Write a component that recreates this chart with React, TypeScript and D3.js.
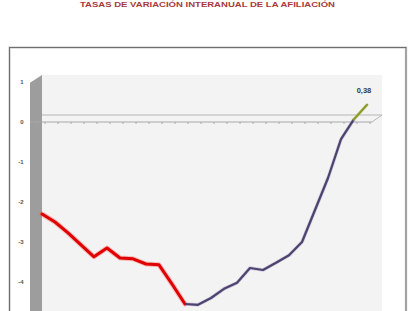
import React from 'react';
import * as d3 from 'd3';

const title = 'TASAS DE VARIACIÓN INTERANUAL DE LA AFILIACIÓN';
const months = [
  'ene-12', 'feb-12', 'mar-12', 'abr-12', 'may-12', 'jun-12', 'jul-12', 'ago-12', 'sep-12', 'oct-12', 'nov-12', 'dic-12',
  'ene-13', 'feb-13', 'mar-13', 'abr-13', 'may-13', 'jun-13', 'jul-13', 'ago-13', 'sep-13', 'oct-13', 'nov-13', 'dic-13',
  'ene-14', 'feb-14',
];
const values = [
  -2.35, -2.55, -2.82, -3.12, -3.42, -3.2, -3.45, -3.47, -3.6, -3.62, -4.1, -4.6,
  -4.62, -4.45, -4.22, -4.07, -3.7, -3.75, -3.57, -3.38, -3.05, -2.25, -1.45, -0.48,
  0.02, 0.38,
];
const yTicks = [1, 0, -1, -2, -3, -4];
const redEnd = 11; // last index of the red (2012) stretch
const greenStart = 24; // first index of the final green stretch
const lastLabel = '0,38';

export default function App() {
  const W = 414;
  const H = 311;
  // back plane geometry
  const backLeft = 42;
  const backRight = 382;
  const depthX = -12;
  const depthY = 7;

  const x = d3.scalePoint<string>().domain(months).range([42, 367]);
  const y = d3.scaleLinear().domain([-4, 1]).range([280, 80]);
  const yFront = (v: number) => y(v) + 2;
  const yBack = (v: number) => y(v) - 5;

  const line = d3
    .line<number>()
    .x((_, i) => 0)
    .y((d) => y(d));

  const pts = values.map((v, i) => [x(months[i]) as number, y(v)] as [number, number]);
  const lg = d3.line<[number, number]>().x((d) => d[0]).y((d) => d[1]);
  const red = lg(pts.slice(0, redEnd + 1)) || '';
  const purple = lg(pts.slice(redEnd, greenStart + 1)) || '';
  const green = lg(pts.slice(greenStart)) || '';

  const bottom = H + 20;
  const frontLeft = backLeft + depthX;
  const frontRight = backRight - 10;

  const tickScale = d3.scaleBand<string>().domain(months).range([frontLeft + 2, frontRight - 2]);
  const tickXs = months.map((m) => tickScale(m) as number).concat([(tickScale(months[months.length - 1]) as number) + tickScale.bandwidth()]);

  const last = pts[pts.length - 1];

  return (
    <svg
      width={W}
      height={H}
      style={{ position: 'absolute', left: 0, top: 0, background: '#ffffff' }}
      fontFamily="'Liberation Sans', Arial, sans-serif"
    >
      <text
        x={207.5}
        y={7}
        textAnchor="middle"
        fontSize={7.6}
        fontWeight="bold"
        fill="#a8393b"
        textLength={255}
        lengthAdjust="spacingAndGlyphs"
      >
        {title}
      </text>

      {/* chart area border */}
      <rect x={9.5} y={47.5} width={396.5} height={bottom} fill="#ffffff" stroke="#d8d8d8" strokeWidth={2.5} />
      <rect x={9.5} y={47.5} width={396.5} height={bottom} fill="none" stroke="#6e6e6e" strokeWidth={1} />

      {/* back wall */}
      <rect x={backLeft} y={75} width={backRight - backLeft} height={bottom} fill="#f3f3f3" />
      {/* side wall */}
      <polygon
        points={`${frontLeft},${75 + depthY + 0.7} ${backLeft},75 ${backLeft},${bottom} ${frontLeft},${bottom + depthY}`}
        fill="#9d9d9d"
      />

      {/* zero plane */}
      <line x1={backLeft} x2={backRight} y1={yBack(0)} y2={yBack(0)} stroke="#b5b5b5" strokeWidth={1} />
      <line x1={frontLeft} x2={frontRight} y1={yFront(0)} y2={yFront(0)} stroke="#a8a8a8" strokeWidth={1} />
      <line x1={frontRight} x2={backRight} y1={yFront(0)} y2={yBack(0)} stroke="#b5b5b5" strokeWidth={1} />
      {tickXs.map((tx, i) => (
        <line key={i} x1={tx} x2={tx} y1={yFront(0)} y2={yFront(0) + 2} stroke="#9a9a9a" strokeWidth={0.8} />
      ))}

      {/* y labels */}
      {yTicks.map((t) => (
        <text
          key={t}
          x={23.5}
          y={yFront(t)}
          dy="0.35em"
          textAnchor="end"
          fontSize={6}
          fontWeight="bold"
          fill="#555555"
        >
          {t}
        </text>
      ))}

      {/* series */}
      <path d={red} fill="none" stroke="#ff4a4a" strokeOpacity={0.35} strokeWidth={5} strokeLinejoin="round" strokeLinecap="round" />
      <path d={red} fill="none" stroke="#e00000" strokeWidth={3} strokeLinejoin="round" strokeLinecap="round" />
      <path d={purple} fill="none" stroke="#8a80a8" strokeOpacity={0.35} strokeWidth={3.5} strokeLinejoin="round" />
      <path d={purple} fill="none" stroke="#4e4270" strokeWidth={2.2} strokeLinejoin="round" />
      <path d={green} fill="none" stroke="#c2cc6a" strokeOpacity={0.4} strokeWidth={3.5} strokeLinecap="round" />
      <path d={green} fill="none" stroke="#8e9a2e" strokeWidth={2.2} strokeLinecap="round" />

      <text
        x={last[0] - 3}
        y={y(values[values.length - 1]) - 14}
        dy="0.35em"
        textAnchor="middle"
        fontSize={7.5}
        fontWeight="bold"
        fill="#3a3a3a"
      >
        {lastLabel}
      </text>
    </svg>
  );
}
